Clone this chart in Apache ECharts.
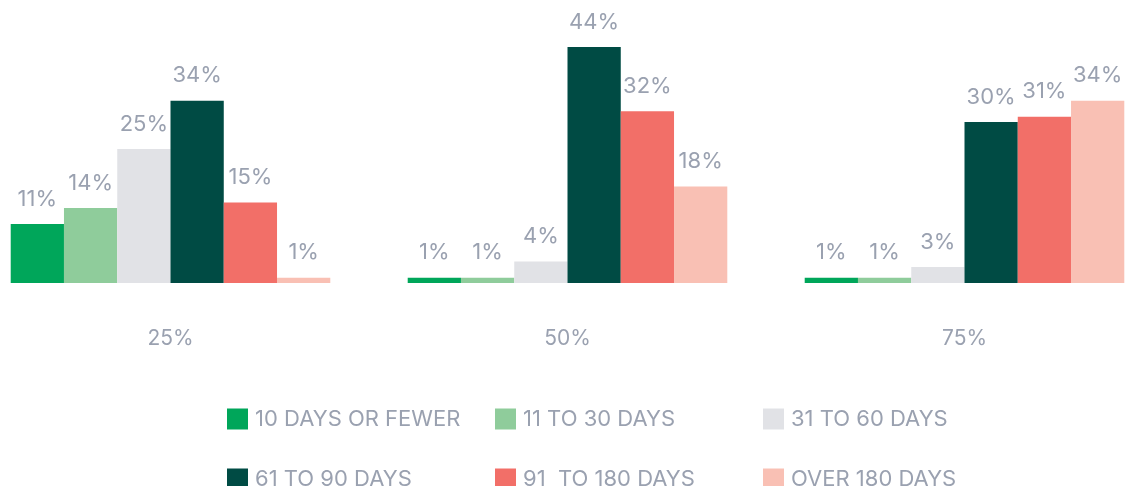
<!DOCTYPE html>
<html><head><meta charset="utf-8">
<script src="https://cdn.jsdelivr.net/npm/echarts@6/dist/echarts.min.js"></script>
<style>html,body{margin:0;padding:0;background:#fff}#c{width:1126px;height:486px}</style>
</head><body><div id="c"></div>
<script>
const categories = ['25%', '50%', '75%'];
const seriesNames = ['10 DAYS OR FEWER', '11 TO 30 DAYS', '31 TO 60 DAYS', '61 TO 90 DAYS', '91  TO 180 DAYS', 'OVER 180 DAYS'];
const days10 = [11, 1, 1];
const days11to30 = [14, 1, 1];
const days31to60 = [25, 4, 3];
const days61to90 = [34, 44, 30];
const days91to180 = [15, 32, 31];
const over180 = [1, 18, 34];
const colors = ['#00a65a', '#8fcc9b', '#e1e2e6', '#004b44', '#f26f68', '#f9c0b4'];
const allData = [days10, days11to30, days31to60, days61to90, days91to180, over180];
const FONT = 'Inter';
const GREY = '#9aa1b0';

const series = seriesNames.map((n, i) => ({
  name: n, type: 'bar', data: allData[i], barGap: '0%', barCategoryGap: '19.5%',
  itemStyle: { color: colors[i] },
  label: { show: true, position: 'top', distance: 14, formatter: '{c}%', color: GREY, fontSize: 22, fontFamily: FONT },
  animation: false
}));
const legendPos = [[227, 408], [495, 408], [763, 408], [227, 468], [495, 468], [763, 468]];
const legends = seriesNames.map((n, i) => ({
  data: [n], left: legendPos[i][0], top: legendPos[i][1], itemWidth: 21, itemHeight: 21, icon: 'rect',
  padding: 0, itemGap: 0, textStyle: { color: GREY, fontSize: 22, fontFamily: FONT, padding: [0, 0, 0, 2] }, selectedMode: false
}));
const chart = echarts.init(document.getElementById('c'));
chart.setOption({
  animation: false,
  grid: { left: -28, width: 1191, top: 47, bottom: 203, outerBoundsMode: 'none', containLabel: false },
  legend: legends,
  xAxis: { type: 'category', data: categories, axisLine: { show: false }, axisTick: { show: false },
    axisLabel: { color: GREY, fontSize: 21, fontFamily: FONT, margin: 45 } },
  yAxis: { type: 'value', min: 0, max: 44, show: false, splitLine: { show: false } },
  series
});
</script></body></html>
